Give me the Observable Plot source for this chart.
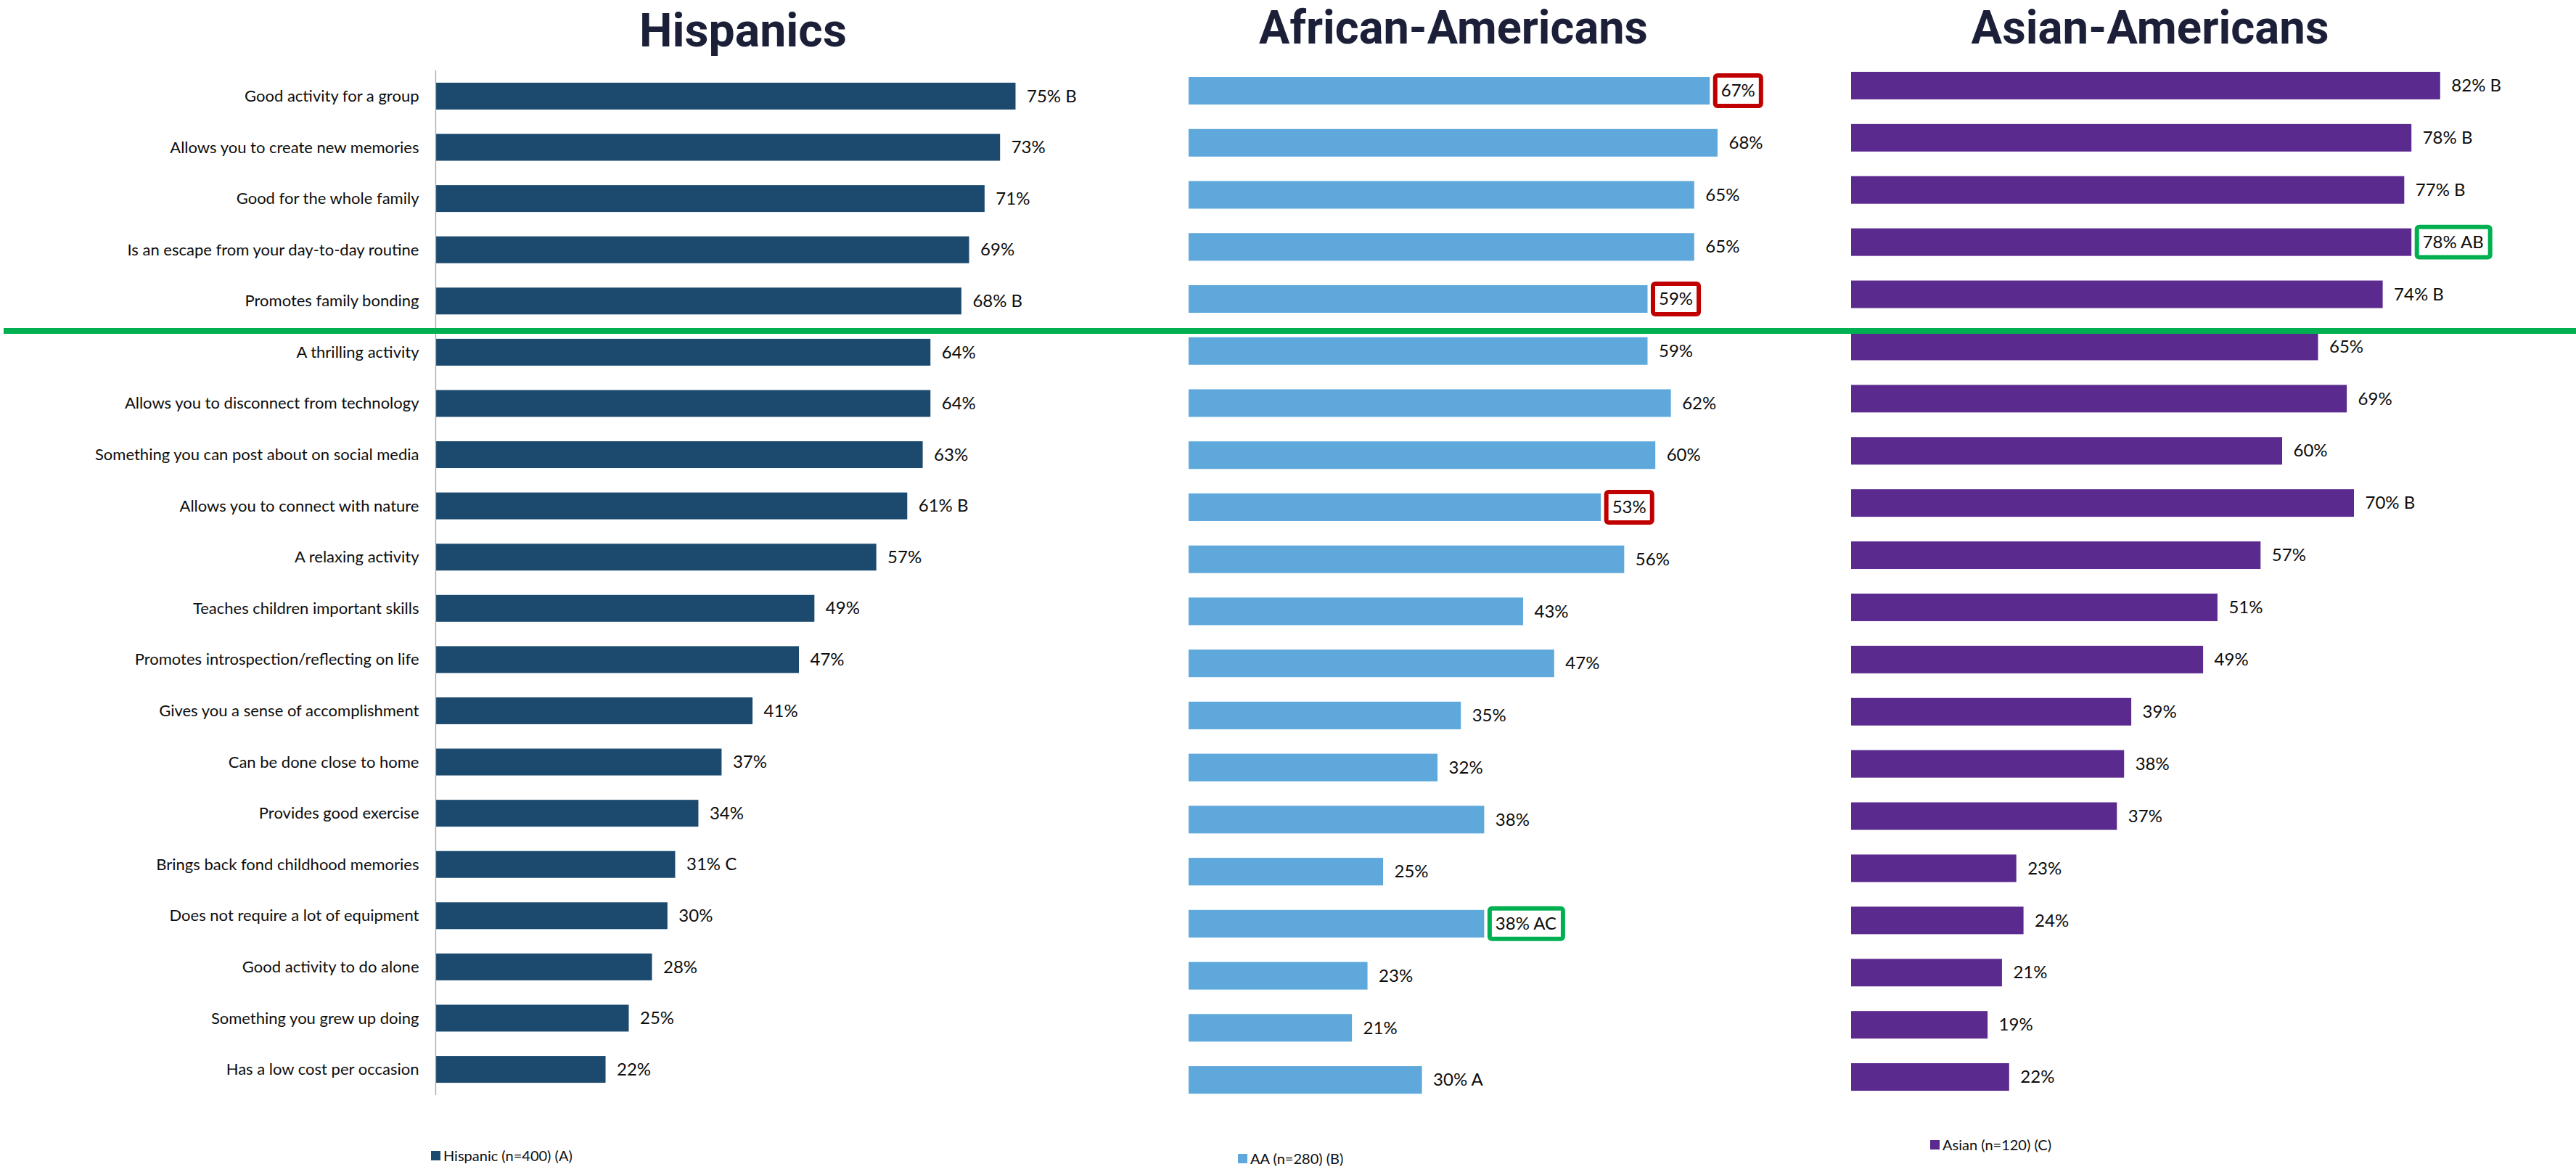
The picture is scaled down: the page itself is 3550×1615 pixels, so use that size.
<!DOCTYPE html>
<html>
<head>
<meta charset="utf-8">
<script src="https://cdn.jsdelivr.net/npm/d3@7"></script>
<script src="https://cdn.jsdelivr.net/npm/@observablehq/plot@0.6"></script>
<style>
html, body { margin: 0; padding: 0; background: #fff; }
#chart { position: relative; width: 3550px; height: 1615px; background: #fff; overflow: hidden; font-family: Lato, "Open Sans", sans-serif; }
#chart svg { position: absolute; left: 0; top: 0; }
.title { position: absolute; width: 800px; text-align: center; white-space: nowrap; font-family: Roboto, sans-serif; font-weight: 700; font-size: 65px; line-height: 76px; color: #1c1f38; transform-origin: 50% 50%; }
.legend { position: absolute; display: flex; align-items: center; height: 24px; font-family: Lato, sans-serif; font-size: 20px; line-height: 24px; color: #0d0d0d; white-space: nowrap; }
.legend i { display: inline-block; width: 13px; height: 13px; margin-right: 4px; }
.sep { position: absolute; left: 5px; width: 3545px; top: 452px; height: 8px; background: #00b050; }
</style>
</head>
<body>
<div id="chart"></div>
<script>
// ---------------- data ----------------
const categories = [
  "Good activity for a group",
  "Allows you to create new memories",
  "Good for the whole family",
  "Is an escape from your day-to-day routine",
  "Promotes family bonding",
  "A thrilling activity",
  "Allows you to disconnect from technology",
  "Something you can post about on social media",
  "Allows you to connect with nature",
  "A relaxing activity",
  "Teaches children important skills",
  "Promotes introspection/reflecting on life",
  "Gives you a sense of accomplishment",
  "Can be done close to home",
  "Provides good exercise",
  "Brings back fond childhood memories",
  "Does not require a lot of equipment",
  "Good activity to do alone",
  "Something you grew up doing",
  "Has a low cost per occasion"
];
const hispanicValues = [75, 73, 71, 69, 68, 64, 64, 63, 61, 57, 49, 47, 41, 37, 34, 31, 30, 28, 25, 22];
const hispanicSig    = ["B", "", "", "", "B", "", "", "", "B", "", "", "", "", "", "", "C", "", "", "", ""];
const aaValues       = [67, 68, 65, 65, 59, 59, 62, 60, 53, 56, 43, 47, 35, 32, 38, 25, 38, 23, 21, 30];
const aaSig          = ["", "", "", "", "", "", "", "", "", "", "", "", "", "", "", "", "AC", "", "", "A"];
const asianValues    = [82, 78, 77, 78, 74, 65, 69, 60, 70, 57, 51, 49, 39, 38, 37, 23, 24, 21, 19, 22];
const asianSig       = ["B", "B", "B", "AB", "B", "", "", "", "B", "", "", "", "", "", "", "", "", "", "", ""];
// highlighted results (significantly lower = red box, significantly higher = green box)
const aaLower     = ["Good activity for a group", "Promotes family bonding", "Allows you to connect with nature"];
const aaHigher    = ["Does not require a lot of equipment"];
const asianHigher = ["Is an escape from your day-to-day routine"];
const panelTitles  = ["Hispanics", "African-Americans", "Asian-Americans"];
const legendLabels = ["Hispanic (n=400) (A)", "AA (n=280) (B)", "Asian (n=120) (C)"];

// ---------------- drawing ----------------
const W = 3550, H = 1615;
const VALUE_FONT = 24;
const ctx = document.createElement("canvas").getContext("2d");

function panel({values, sig, color, x0, k, top, bottom, pi, po, showAxis, higher = [], lower = []}) {
  ctx.font = `${VALUE_FONT}px Lato`;
  const rows = categories.map((c, i) => ({
    category: c,
    value: values[i],
    label: `${values[i]}%${sig[i] ? " " + sig[i] : ""}`
  }));
  const boxMarks = rows
    .filter(d => higher.includes(d.category) || lower.includes(d.category))
    .map(d => {
      const tw = ctx.measureText(d.label).width;
      return Plot.barX([d], {
        x1: "value", x2: "value", y: "category",
        insetLeft: 7.5, insetRight: -(15 + tw + 8.5),
        insetTop: -2, insetBottom: -2, rx: 3,
        fill: "white",
        stroke: higher.includes(d.category) ? "#00b050" : "#c00000",
        strokeWidth: 6
      });
    });
  return Plot.plot({
    width: W, height: H,
    marginLeft: x0, marginRight: W - x0 - 100 * k,
    marginTop: top, marginBottom: H - bottom,
    x: {domain: [0, 100], axis: null},
    y: {domain: categories, paddingInner: pi, paddingOuter: po, align: 0.5, round: false,
        axis: showAxis ? "left" : null, tickSize: 0, tickPadding: 23, label: null},
    style: {fontFamily: "Lato, sans-serif", fontSize: "22px", color: "#0d0d0d",
            background: "transparent", overflow: "visible"},
    marks: [
      Plot.barX(rows, {x: "value", y: "category", fill: color}),
      showAxis ? Plot.ruleX([0], {stroke: "#a6a6a6", strokeWidth: 1.3}) : null,
      ...boxMarks,
      Plot.text(rows, {x: "value", y: "category", text: "label", textAnchor: "start",
                       dx: 15, fontSize: VALUE_FONT, fill: "#0d0d0d"})
    ]
  });
}

const chart = document.getElementById("chart");
const panels = [
  {values: hispanicValues, sig: hispanicSig, color: "#1c4a6e", x0: 600, k: 10.66,
   top: 97, bottom: 1509, pi: 0.476, po: 0.24, showAxis: true},
  {values: aaValues, sig: aaSig, color: "#5ea8dc", x0: 1638, k: 10.72,
   top: 88.8, bottom: 1524.3, pi: 0.47, po: 0.24, showAxis: false, higher: aaHigher, lower: aaLower},
  {values: asianValues, sig: asianSig, color: "#5a2a8e", x0: 2551, k: 9.9,
   top: 81.7, bottom: 1520.3, pi: 0.472, po: 0.24, showAxis: false, higher: asianHigher}
];
panels.forEach(p => chart.appendChild(panel(p)));

// separator line between top-5 and the rest
const sep = document.createElement("div");
sep.className = "sep";
chart.appendChild(sep);

// titles (condensed to the reference's widths)
const titlePos = [{cx: 1024, top: 4, w: 286}, {cx: 2003, top: 0, w: 536}, {cx: 2963, top: 0, w: 493}];
ctx.font = "700 65px Roboto";
panelTitles.forEach((t, i) => {
  const d = document.createElement("div");
  d.className = "title";
  d.textContent = t;
  d.style.left = (titlePos[i].cx - 400) + "px";
  d.style.top = titlePos[i].top + "px";
  const s = Math.min(1, titlePos[i].w / ctx.measureText(t).width);
  d.style.transform = `scaleX(${s})`;
  chart.appendChild(d);
});

// legends
const legendPos = [{left: 594, top: 1580}, {left: 1706, top: 1584}, {left: 2660, top: 1565}];
legendLabels.forEach((t, i) => {
  const d = document.createElement("div");
  d.className = "legend";
  d.style.left = legendPos[i].left + "px";
  d.style.top = legendPos[i].top + "px";
  const sw = document.createElement("i");
  sw.style.background = panels[i].color;
  const span = document.createElement("span");
  span.textContent = t;
  d.appendChild(sw);
  d.appendChild(span);
  chart.appendChild(d);
});
</script>
</body>
</html>
